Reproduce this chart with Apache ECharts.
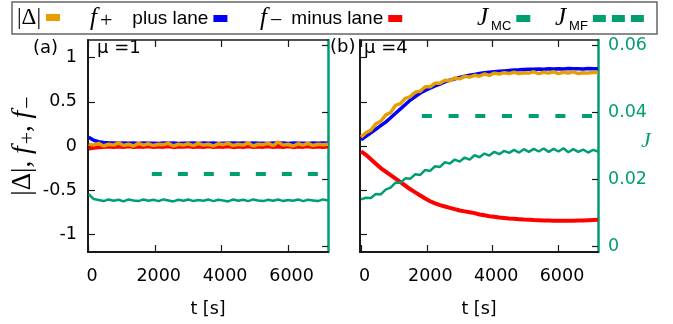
<!DOCTYPE html>
<html>
<head>
<meta charset="utf-8">
<script src="https://cdn.jsdelivr.net/npm/echarts@6/dist/echarts.min.js"></script>
<style>
  html, body { margin: 0; padding: 0; background: #fff; }
  #chart { width: 673px; height: 324px; }
</style>
</head>
<body>
<div id="chart"></div>
<script>
// time axis [s], shared by every curve
const times = [0, 150, 300, 450, 600, 750, 900, 1050, 1200, 1350, 1500, 1650, 1800, 1950, 2100, 2250,
  2400, 2550, 2700, 2850, 3000, 3150, 3300, 3450, 3600, 3750, 3900, 4050, 4200, 4350, 4500, 4650,
  4800, 4950, 5100, 5250, 5400, 5550, 5700, 5850, 6000, 6150, 6300, 6450, 6600, 6750, 6900, 7050, 7200]

// panel (a), mu = 1
const deltaA = [0.02, 0.01, 0.03, 0.00, 0.02, 0.01, 0.035, 0.005, 0.02, 0.00, 0.03, 0.01, 0.025, 0.005, 0.02, 0.015,
  0.03, 0.00, 0.02, 0.01, 0.025, 0.005, 0.03, 0.01, 0.02, 0.00, 0.025, 0.015, 0.03, 0.005, 0.02, 0.01,
  0.035, 0.00, 0.02, 0.015, 0.03, 0.005, 0.045, 0.01, 0.02, 0.00, 0.025, 0.01, 0.03, 0.005, 0.02, 0.015, 0.02]
const fPlusA = [0.10, 0.065, 0.048, 0.04, 0.036, 0.034, 0.031, 0.035, 0.03, 0.033, 0.029, 0.034, 0.03, 0.032, 0.028, 0.033,
  0.03, 0.034, 0.029, 0.032, 0.03, 0.035, 0.028, 0.033, 0.031, 0.034, 0.029, 0.032, 0.03, 0.035, 0.03, 0.033,
  0.028, 0.034, 0.03, 0.032, 0.029, 0.035, 0.031, 0.033, 0.029, 0.034, 0.03, 0.032, 0.028, 0.033, 0.03, 0.034, 0.031]
const fMinusA = [-0.03, -0.02, -0.014, -0.01, -0.006, -0.012, -0.005, -0.011, -0.004, -0.012, -0.006, -0.01, -0.003, -0.012, -0.007, -0.01,
  -0.004, -0.013, -0.006, -0.009, -0.004, -0.012, -0.005, -0.011, -0.003, -0.012, -0.006, -0.01, -0.004, -0.013, -0.005, -0.011,
  -0.004, -0.012, -0.006, -0.01, -0.003, -0.012, -0.005, -0.011, -0.004, -0.013, -0.006, -0.01, -0.004, -0.012, -0.005, -0.011, -0.006]
const jMcA = [0.0155, 0.0140, 0.0137, 0.0134, 0.0139, 0.0135, 0.0138, 0.0133, 0.0139, 0.0136, 0.0134, 0.0139, 0.0135, 0.0138, 0.0134, 0.0139,
  0.0136, 0.0133, 0.0138, 0.0135, 0.0139, 0.0134, 0.0137, 0.0135, 0.0139, 0.0134, 0.0138, 0.0136, 0.0133, 0.0139, 0.0135, 0.0138,
  0.0134, 0.0139, 0.0136, 0.0134, 0.0138, 0.0135, 0.0139, 0.0134, 0.0137, 0.0135, 0.0139, 0.0134, 0.0138, 0.0136, 0.0134, 0.0139, 0.0136]
const jMfTimesA = [1900, 7000]
const jMfA = [0.0215, 0.0215]

// panel (b), mu = 4
const deltaB = [0.10, 0.15, 0.18, 0.25, 0.28, 0.35, 0.38, 0.46, 0.48, 0.54, 0.56, 0.61, 0.62, 0.67, 0.67, 0.71,
  0.71, 0.745, 0.74, 0.77, 0.76, 0.79, 0.78, 0.80, 0.79, 0.815, 0.80, 0.825, 0.815, 0.83, 0.82, 0.835,
  0.82, 0.83, 0.825, 0.84, 0.82, 0.835, 0.825, 0.84, 0.82, 0.835, 0.825, 0.84, 0.82, 0.83, 0.825, 0.835, 0.83]
const fPlusB = [0.07, 0.11, 0.15, 0.19, 0.23, 0.27, 0.32, 0.37, 0.42, 0.47, 0.52, 0.56, 0.60, 0.63, 0.655, 0.68,
  0.70, 0.725, 0.745, 0.76, 0.775, 0.79, 0.80, 0.81, 0.82, 0.83, 0.835, 0.84, 0.845, 0.85, 0.855, 0.86,
  0.862, 0.866, 0.868, 0.87, 0.872, 0.87, 0.874, 0.872, 0.875, 0.873, 0.876, 0.874, 0.875, 0.873, 0.876, 0.874, 0.875]
const fMinusB = [-0.06, -0.10, -0.15, -0.20, -0.25, -0.29, -0.33, -0.37, -0.41, -0.45, -0.49, -0.525, -0.56, -0.595, -0.625, -0.65,
  -0.67, -0.685, -0.70, -0.715, -0.73, -0.74, -0.75, -0.76, -0.775, -0.785, -0.795, -0.80, -0.81, -0.815, -0.82, -0.824,
  -0.828, -0.832, -0.835, -0.838, -0.84, -0.842, -0.844, -0.846, -0.847, -0.847, -0.846, -0.845, -0.844, -0.843, -0.84, -0.838, -0.836]
const jMcB = [0.0139, 0.0144, 0.0143, 0.0155, 0.0154, 0.0168, 0.0174, 0.0189, 0.0189, 0.0202, 0.0201, 0.0214, 0.0212, 0.0227, 0.0224, 0.0238,
  0.0236, 0.0250, 0.0246, 0.0258, 0.0252, 0.0264, 0.0258, 0.0271, 0.0265, 0.0276, 0.0270, 0.0281, 0.0274, 0.0284, 0.0278, 0.0287,
  0.0279, 0.0289, 0.0281, 0.0290, 0.0282, 0.0291, 0.0281, 0.0290, 0.0282, 0.0292, 0.0280, 0.0289, 0.0281, 0.0288, 0.0279, 0.0287, 0.0282]
const jMfTimesB = [1850, 7200]
const jMfB = [0.0388, 0.0388]

const tTicks = [0, 2000, 4000, 6000]
const leftTicks = [-1, -0.5, 0, 0.5, 1]
const jTicks = [0, 0.02, 0.04, 0.06]

const ORANGE = '#E69F00'
const BLUE = '#0000FF'
const RED = '#FF0000'
const GREEN = '#009E73'
const INK = '#1a1a1a'
const SANS = 'DejaVu Sans'

function pair(xs, ys) {
  return ys.map((v, i) => [xs[i], v])
}

const legendRich = {
  r: { fontFamily: 'Liberation Serif', fontSize: 23, lineHeight: 28 },
  m: { fontFamily: 'Liberation Serif', fontStyle: 'italic', fontSize: 25, lineHeight: 28 },
  s: { fontFamily: 'Liberation Serif', fontSize: 22, lineHeight: 18, verticalAlign: 'bottom', padding: [0, 0, 0, 3] },
  wa: { fontFamily: 'Liberation Sans', fontSize: 19, lineHeight: 28, padding: [0, 0, 0, 20] },
  wb: { fontFamily: 'Liberation Sans', fontSize: 19, lineHeight: 28, padding: [0, 0, 0, 9] },
  ss: { fontFamily: 'Liberation Sans', fontSize: 13, lineHeight: 14, verticalAlign: 'bottom', padding: [0, 0, 0, 3] },
}
const legendLabels = {
  delta: '{r||Δ|}',
  fplus: '{m|f}{s|+}{wa|plus lane}',
  fminus: '{m|f}{s|−}{wb|minus lane}',
  jmc: '{m|J}{ss|MC}',
  jmf: '{m|J}{ss|MF}',
}

function legendItem(name, left, extra) {
  return Object.assign({
    left,
    top: 6,
    padding: 0,
    align: 'right',
    selectedMode: false,
    itemWidth: 14,
    itemHeight: 7,
    icon: 'rect',
    itemStyle: { borderWidth: 0 },
    data: [name],
    formatter: n => legendLabels[n],
    textStyle: { color: '#000', rich: legendRich },
  }, extra || {})
}

function xAxes(grid, min, max) {
  return [
    {
      gridIndex: grid, type: 'value', position: 'bottom', min, max,
      axisLine: { show: true, onZero: false, lineStyle: { color: INK, width: 2 } },
      axisTick: { show: true, inside: true, length: 7, customValues: tTicks, lineStyle: { color: INK, width: 1.2 } },
      axisLabel: {
        customValues: tTicks, color: '#000', fontFamily: SANS, fontSize: 17.5, margin: 15, padding: [0, 0, 0, 7],
        formatter: v => String(v),
      },
      splitLine: { show: false },
      name: 't [s]', nameLocation: 'middle', nameGap: 48, nameMoveOverlap: false,
      nameTextStyle: { color: '#000', fontFamily: SANS, fontSize: 17.5 },
    },
    {
      gridIndex: grid, type: 'value', position: 'top', min, max,
      axisLine: { show: true, onZero: false, lineStyle: { color: INK, width: 1.5 } },
      axisTick: { show: true, inside: true, length: 7, customValues: tTicks, lineStyle: { color: INK, width: 1.2 } },
      axisLabel: { show: false },
      splitLine: { show: false },
    },
  ]
}

function yAxes(grid, withLeftLabels, withRightLabels) {
  const left = {
    gridIndex: grid, type: 'value', position: 'left', min: -1.2, max: 1.2,
    axisLine: { show: true, onZero: false, lineStyle: { color: INK, width: 2 } },
    axisTick: { show: true, inside: true, length: 7, customValues: leftTicks, lineStyle: { color: INK, width: 1.2 } },
    axisLabel: { show: withLeftLabels, customValues: leftTicks, color: '#000', fontFamily: SANS, fontSize: 17.5, margin: 11 },
    splitLine: { show: false },
  }
  if (withLeftLabels) {
    Object.assign(left, {
      name: '{r||Δ|}{r|, }{m|f}{s|+}{r|, }{m|f}{s|−}',
      nameLocation: 'middle', nameRotate: 90, nameGap: 44,
      nameTextStyle: {
        color: '#000',
        rich: {
          r: { fontFamily: 'Liberation Serif', fontSize: 27, lineHeight: 32 },
          m: { fontFamily: 'Liberation Serif', fontStyle: 'italic', fontSize: 28, lineHeight: 32 },
          s: { fontFamily: 'Liberation Serif', fontSize: 22, lineHeight: 22, verticalAlign: 'bottom', padding: [0, 0, 0, 2] },
        },
      },
    })
  }
  const right = {
    gridIndex: grid, type: 'value', position: 'right', min: -0.0018, max: 0.0615,
    axisLine: { show: true, onZero: false, lineStyle: { color: GREEN, width: 2.5 } },
    axisTick: { show: true, inside: true, length: 6, customValues: jTicks, lineStyle: { color: INK, width: 1.2 } },
    axisLabel: {
      show: withRightLabels, customValues: jTicks, color: GREEN, fontFamily: SANS, fontSize: 17.5, margin: 10,
      formatter: v => (v === 0 ? '0' : v.toFixed(2)),
    },
    splitLine: { show: false },
  }
  if (withRightLabels) {
    Object.assign(right, {
      name: 'J', nameLocation: 'middle', nameRotate: 0, nameGap: 43, nameMoveOverlap: false,
      nameTextStyle: {
        color: GREEN, fontFamily: 'Liberation Serif', fontStyle: 'italic', fontSize: 22,
        verticalAlign: 'bottom', lineHeight: 10,
      },
    })
  }
  return [left, right]
}

function panelSeries(xi, yi, d) {
  const base = { type: 'line', xAxisIndex: xi, showSymbol: false, symbol: 'none', animation: false }
  return [
    Object.assign({}, base, { name: 'fplus', yAxisIndex: yi, data: pair(times, d.fPlus), color: BLUE, lineStyle: { width: 3.5 } }),
    Object.assign({}, base, { name: 'fminus', yAxisIndex: yi, data: pair(times, d.fMinus), color: RED, lineStyle: { width: 4 } }),
    Object.assign({}, base, { name: 'delta', yAxisIndex: yi, data: pair(times, d.delta), color: ORANGE, lineStyle: { width: 3.5 } }),
    Object.assign({}, base, { name: 'jmc', yAxisIndex: yi + 1, data: pair(times, d.jMc), color: GREEN, lineStyle: { width: 2.5 } }),
    Object.assign({}, base, {
      name: 'jmf', yAxisIndex: yi + 1, data: pair(d.jMfT, d.jMf), color: GREEN,
      lineStyle: { width: 4, type: [10, d.gap], cap: 'butt' },
    }),
  ]
}

const chart = echarts.init(document.getElementById('chart'), null, { renderer: 'canvas' })
chart.setOption({
  animation: false,
  backgroundColor: '#fff',
  grid: [
    { left: 88, top: 40, width: 240, height: 212, outerBoundsMode: 'none' },
    { left: 360, top: 40, width: 238, height: 212, outerBoundsMode: 'none' },
  ],
  xAxis: [...xAxes(0, -20, 7200), ...xAxes(1, -30, 7200)],
  yAxis: [...yAxes(0, true, false), ...yAxes(1, false, true)],
  legend: [
    legendItem('delta', 17),
    legendItem('fplus', 90),
    legendItem('fminus', 260),
    legendItem('jmc', 477),
    legendItem('jmf', 555, {
      itemWidth: 51,
      icon: 'path://M0,0h13v7h-13zM19,0h13v7h-13zM38,0h13v7h-13z',
    }),
  ],
  graphic: [
    { type: 'rect', shape: { x: 12, y: 2, width: 645, height: 32 }, style: { fill: 'none', stroke: '#666', lineWidth: 1.5 }, silent: true },
    { type: 'text', x: 33, y: 48, style: { text: '(a)', font: '18px "DejaVu Sans"', fill: '#000', verticalAlign: 'middle' } },
    { type: 'text', x: 97, y: 48, style: { text: 'μ =1', font: '18px "DejaVu Sans"', fill: '#000', verticalAlign: 'middle' } },
    { type: 'text', x: 330, y: 47, style: { text: '(b)', font: '18px "DejaVu Sans"', fill: '#000', verticalAlign: 'middle' } },
    { type: 'text', x: 364, y: 48, style: { text: 'μ =4', font: '18px "DejaVu Sans"', fill: '#000', verticalAlign: 'middle' } },
  ],
  series: [
    ...panelSeries(0, 0, { fPlus: fPlusA, fMinus: fMinusA, delta: deltaA, jMc: jMcA, jMfT: jMfTimesA, jMf: jMfA, gap: 16 }),
    ...panelSeries(2, 2, { fPlus: fPlusB, fMinus: fMinusB, delta: deltaB, jMc: jMcB, jMfT: jMfTimesB, jMf: jMfB, gap: 16.7 }),
  ],
})
</script>
</body>
</html>
